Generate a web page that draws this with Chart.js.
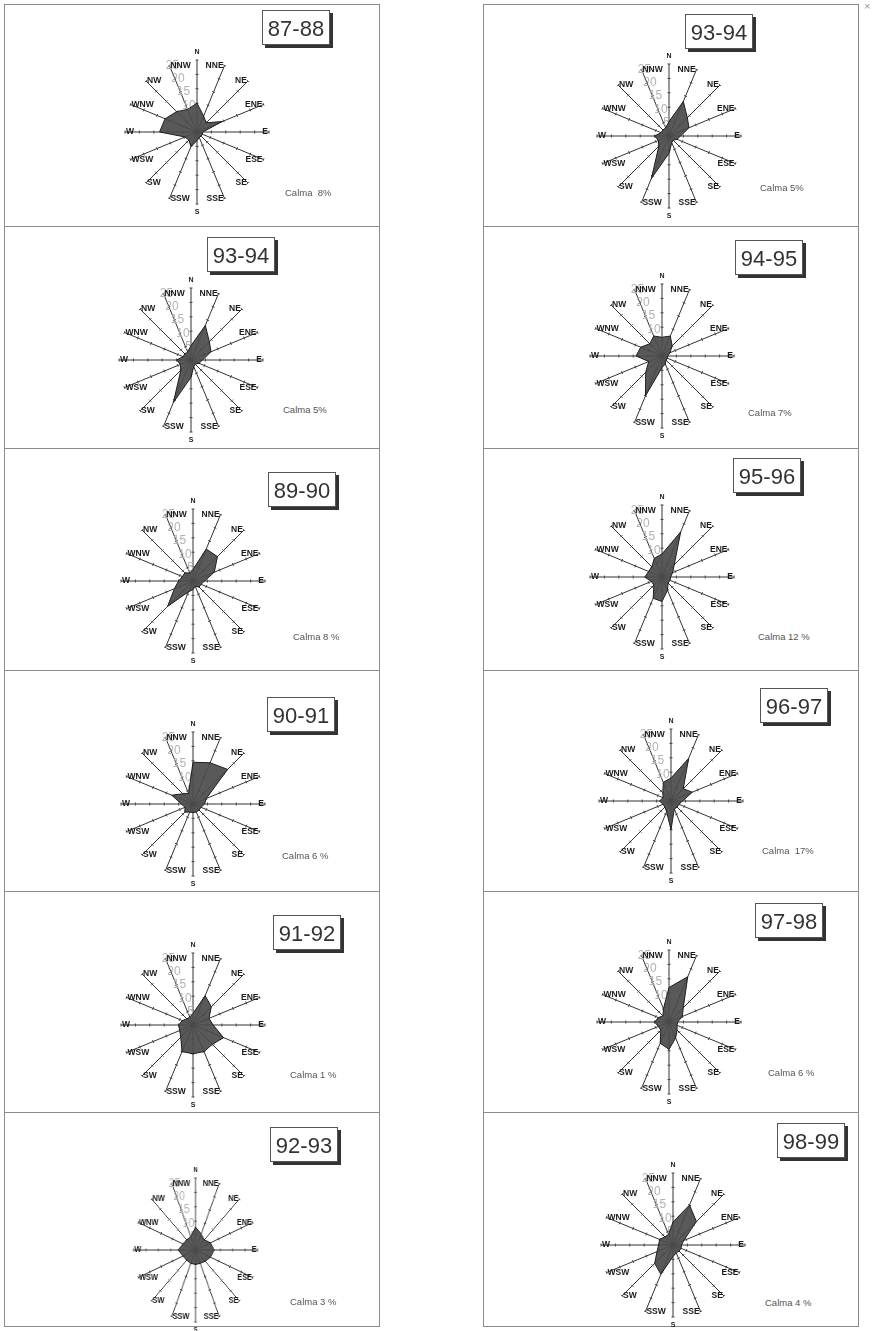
<!DOCTYPE html>
<html>
<head>
<meta charset="utf-8">
<script src="https://cdn.jsdelivr.net/npm/chart.js@4.4.0/dist/chart.umd.min.js"></script>
<style>
  body { margin:0; background:#fff; width:875px; height:1331px; position:relative; overflow:hidden;
         font-family:"Liberation Sans", Arial, sans-serif; }
  .panel { position:absolute; border:1px solid #8c8c8c; box-sizing:border-box; }
  .rose  { position:absolute; }
  .title { position:absolute; width:68px; height:35px; border:1px solid #555; background:#fff;
           box-shadow:3px 3px 0 #333; font-size:22px; line-height:35px; text-align:center; color:#333; box-sizing:border-box; }
  .calma { position:absolute; font-size:9.5px; color:#555; white-space:pre; line-height:10px; }
  .mark  { position:absolute; left:864px; top:0px; font-size:11px; color:#999; }
</style>
</head>
<body>
<div class="mark">×</div>
<script>
// wind directions (clockwise from north)
var directions = ['N','NNE','NE','ENE','E','ESE','SE','SSE','S','SSW','SW','WSW','W','WNW','NW','NNW'];
var tickValues = [5, 10, 15, 20, 25];

// frequency (%) per direction
var f8788 = [10, 6, 4.5, 9.5, 2, 2, 2, 2, 3, 5.5, 4, 4.5, 13, 12, 10, 8.5];
var f9394 = [5, 13, 9, 7.5, 4, 3, 2, 2.5, 6, 16, 5, 4, 5, 3, 3, 3];
var f9495 = [6.5, 7.5, 5, 3, 2, 2, 2, 3, 4, 15, 8, 5, 9, 8, 6, 7.5];
var f8990 = [4, 12, 12, 8, 4, 3, 3, 2, 3, 4, 12.5, 7, 5, 4, 4, 3];
var f9596 = [8, 17, 6, 4, 3, 3, 3, 5, 8.5, 8, 4, 4, 6, 5, 5, 7];
var f9091 = [14.5, 15.5, 17, 5, 4, 3, 3, 3, 3, 3, 4, 3, 4, 8, 5, 4];
var f9697 = [8, 16, 6, 8, 4, 3, 3, 3, 10, 4, 3, 3, 4, 3, 4, 7];
var f9192 = [4, 11, 9, 6, 7, 11.5, 9.5, 10, 10, 10, 6, 5, 5, 4, 3, 3];
var f9798 = [12, 17, 7, 5, 3, 3, 4, 6, 9.5, 8, 4, 4, 5, 4, 3, 5];
var f9293 = [8, 6, 5, 6.5, 7.5, 6.5, 5.5, 5, 5, 5, 5, 5.5, 7, 5.5, 5, 5];
var f9899 = [8, 15, 11.5, 4, 3, 3, 3, 3, 4, 11, 9, 6, 5, 5, 4, 4];

// panels, left column then right column, top to bottom
var periods = ['87-88','93-94','89-90','90-91','91-92','92-93',
               '93-94','94-95','95-96','96-97','97-98','98-99'];
var series  = [f8788, f9394, f8990, f9091, f9192, f9293,
               f9394, f9495, f9596, f9697, f9798, f9899];
var calma   = ['Calma  8%','Calma 5%','Calma 8 %','Calma 6 %','Calma 1 %','Calma 3 %',
               'Calma 5%','Calma 7%','Calma 12 %','Calma  17%','Calma 6 %','Calma 4 %'];

// layout
var rowTops = [4, 226, 448, 670, 891, 1112, 1326];
var colX = [[4, 376], [483, 376]];
var centers = [[197,132],[191,360],[193,581],[193,804],[193,1025],[195,1250],
               [669,136],[662,356],[662,577],[671,801],[669,1022],[673,1245]];
var squeeze = [1, 1, 1, 1, 1, 0.86, 1, 1, 1, 1, 1, 1];   // 92-93 rose is printed narrower
var titlePos = [[262,10],[207,237],[268,472],[267,697],[273,915],[270,1127],
                [685,14],[735,240],[733,458],[760,688],[755,903],[777,1123]];
var calmaPos = [[285,188],[283,405],[293,632],[282,851],[290,1070],[290,1297],
                [760,183],[748,408],[758,632],[762,846],[768,1068],[765,1298]];

var roseDecor = {
  id: 'roseDecor',
  beforeDatasetsDraw: function(chart) {
    var s = chart.scales.r, ctx = chart.ctx;
    ctx.save();
    ctx.strokeStyle = '#444';
    ctx.lineWidth = 1;
    for (var i = 0; i < directions.length; i++) {
      var a = s.getIndexAngle(i) - Math.PI / 2;
      var nx = -Math.sin(a), ny = Math.cos(a);
      tickValues.forEach(function(v) {
        var p = s.getPointPositionForValue(i, v);
        ctx.beginPath();
        ctx.moveTo(p.x - nx * 1.5, p.y - ny * 1.5);
        ctx.lineTo(p.x + nx * 1.5, p.y + ny * 1.5);
        ctx.stroke();
      });
    }
    // scale numbers sit beside the NNW spoke
    ctx.font = '12px "Liberation Sans", Arial';
    ctx.fillStyle = '#b3b3b3';
    ctx.textAlign = 'center';
    ctx.textBaseline = 'middle';
    tickValues.forEach(function(v) {
      var p = s.getPointPositionForValue(15, v);
      ctx.fillText(String(v), p.x + 3, p.y);
    });
    ctx.restore();
  },
  afterDraw: function(chart) {
    var s = chart.scales.r, ctx = chart.ctx;
    var cx = s.xCenter;
    ctx.save();
    ctx.fillStyle = '#1a1a1a';
    ctx.textBaseline = 'middle';
    chart.data.labels.forEach(function(lab, i) {
      var p;
      if (i === 0 || i === 8) {
        p = s.getPointPosition(i, s.drawingArea + 8);
        ctx.textAlign = 'center';
        ctx.font = 'bold 7px "Liberation Sans", Arial';
      } else {
        p = s.getPointPosition(i, s.drawingArea);
        ctx.textAlign = p.x > cx ? 'right' : 'left';
        ctx.font = 'bold 8.5px "Liberation Sans", Arial';
        p.x += p.x > cx ? -1 : 1;
      }
      ctx.fillText(lab, p.x, p.y);
    });
    ctx.restore();
  }
};

function addDiv(cls, x, y, w, h, text) {
  var d = document.createElement('div');
  d.className = cls;
  d.style.left = x + 'px';
  d.style.top = y + 'px';
  if (w) d.style.width = w + 'px';
  if (h) d.style.height = h + 'px';
  if (text) d.textContent = text;
  document.body.appendChild(d);
  return d;
}

// panel frames
for (var c = 0; c < 2; c++) {
  for (var r = 0; r < 6; r++) {
    addDiv('panel', colX[c][0], rowTops[r], colX[c][1], rowTops[r + 1] - rowTops[r] + 1);
  }
}

function drawRose(k) {
  var canvas = document.createElement('canvas');
  var w = Math.round(180 * squeeze[k]);
  canvas.width = 180;
  canvas.height = 180;
  canvas.className = 'rose';
  canvas.style.left = (centers[k][0] - w / 2) + 'px';
  canvas.style.top = (centers[k][1] - 90) + 'px';
  document.body.appendChild(canvas);

  new Chart(canvas.getContext('2d'), {
    type: 'radar',
    data: {
      labels: directions,
      datasets: [{
        label: periods[k],
        data: series[k],
        backgroundColor: 'rgba(75,75,75,0.92)',
        borderColor: '#1e1e1e',
        borderWidth: 1,
        pointRadius: 0,
        fill: true
      }]
    },
    options: {
      responsive: false,
      animation: false,
      layout: { padding: 18 },
      plugins: { legend: { display: false }, tooltip: { enabled: false } },
      scales: {
        r: {
          min: 0,
          max: 25,
          ticks: { stepSize: 5, display: false },
          grid: { display: false },
          angleLines: { display: true, color: '#333', lineWidth: 1 },
          pointLabels: { display: false }
        }
      }
    },
    plugins: [roseDecor]
  });
  // squeeze after Chart.js has sized the canvas
  canvas.style.width = w + 'px';
  canvas.style.height = '180px';

  addDiv('title', titlePos[k][0], titlePos[k][1], 0, 0, periods[k]);
  addDiv('calma', calmaPos[k][0], calmaPos[k][1], 0, 0, calma[k]);
}

for (var k = 0; k < periods.length; k++) drawRose(k);
</script>
</body>
</html>
